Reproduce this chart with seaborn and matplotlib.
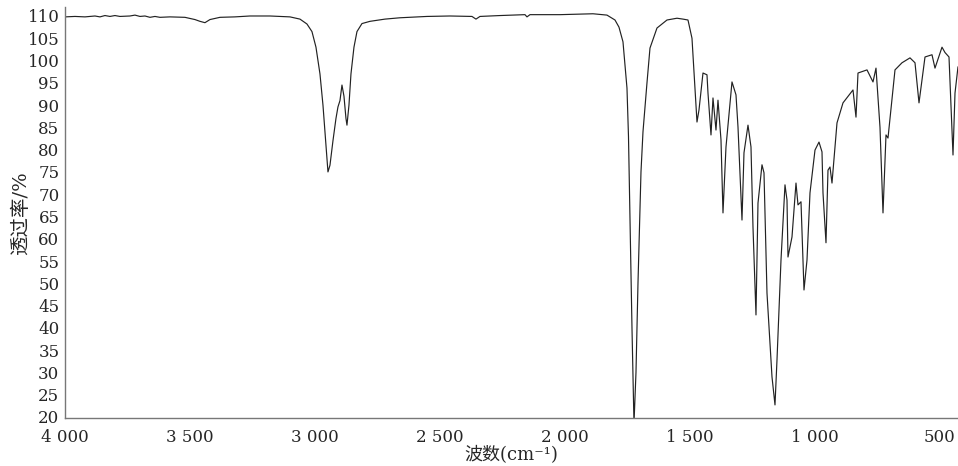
import numpy as np
import pandas as pd
import matplotlib
matplotlib.use('Agg')
import matplotlib.pyplot as plt
from matplotlib.ticker import MultipleLocator, FuncFormatter
import seaborn as sns

# IR spectrum (wavenumber in cm-1, transmittance in %)
wavenumber = [
    4000, 3960, 3920, 3880, 3860, 3840, 3820, 3800, 3780, 3740, 3720, 3700,
    3680, 3660, 3640, 3620, 3580, 3520, 3480, 3460, 3440, 3420, 3380, 3320,
    3260, 3180, 3100, 3060, 3032, 3012, 2996, 2980, 2968, 2960, 2952, 2948,
    2940, 2928, 2916, 2908, 2900, 2892, 2884, 2876, 2872, 2864, 2856, 2844,
    2832, 2812, 2780, 2720, 2660, 2552, 2460, 2372, 2356, 2340, 2260, 2160,
    2152, 2140, 2020, 1888, 1832, 1800, 1784, 1768, 1752, 1746, 1740, 1732,
    1724, 1716, 1708, 1696, 1688, 1672, 1660, 1632, 1592, 1552, 1528, 1508,
    1492, 1480, 1472, 1464, 1448, 1432, 1428, 1416, 1408, 1396, 1388, 1376,
    1368, 1356, 1332, 1316, 1308, 1292, 1284, 1268, 1256, 1248, 1236, 1228,
    1212, 1204, 1192, 1172, 1160, 1152, 1136, 1120, 1112, 1108, 1092, 1076,
    1068, 1056, 1044, 1032, 1020, 1000, 984, 972, 968, 956, 948, 940,
    932, 912, 888, 848, 836, 828, 792, 768, 756, 740, 728, 716,
    708, 680, 652, 620, 600, 584, 560, 532, 520, 492, 480, 464,
    448, 440, 428,
]
transmittance = [
    109.8, 109.9, 109.8, 110.0, 109.8, 110.1, 109.9, 110.1, 109.9, 110.0, 110.2, 109.9,
    110.0, 109.7, 109.9, 109.7, 109.8, 109.7, 109.2, 108.8, 108.5, 109.2, 109.7, 109.8,
    110.0, 110.0, 109.8, 109.3, 108.2, 106.5, 103.0, 97.0, 90.0, 84.0, 78.0, 75.0,
    76.5, 82.0, 87.0, 89.6, 91.0, 94.5, 92.0, 87.0, 85.5, 90.0, 97.0, 103.0,
    106.5, 108.3, 108.8, 109.3, 109.6, 109.9, 110.0, 109.9, 109.3, 109.9, 110.1, 110.3,
    109.8, 110.3, 110.3, 110.5, 110.2, 109.1, 107.5, 104.2, 93.8, 83.0, 65.0, 40.0,
    18.5, 30.0, 50.0, 75.0, 84.0, 95.0, 102.8, 107.3, 109.1, 109.5, 109.3, 109.1,
    105.0, 93.8, 86.2, 88.9, 97.2, 96.8, 92.7, 83.3, 91.6, 84.4, 91.1, 82.2,
    65.8, 80.6, 95.2, 92.3, 85.1, 64.2, 79.3, 85.5, 80.6, 62.6, 42.9, 68.0,
    76.6, 74.8, 47.8, 29.0, 22.7, 32.8, 55.2, 72.1, 68.7, 55.9, 60.4, 72.5,
    67.6, 68.3, 48.5, 55.2, 70.3, 79.9, 81.7, 79.5, 70.3, 59.1, 75.4, 76.1,
    72.5, 86.0, 90.5, 93.4, 87.3, 97.2, 97.9, 95.2, 98.3, 85.0, 65.8, 83.3,
    82.6, 97.9, 99.5, 100.6, 99.5, 90.5, 100.8, 101.3, 98.3, 103.0, 101.8, 100.8,
    78.8, 92.7, 98.6,
]

x_ticks = [4000, 3500, 3000, 2500, 2000, 1500, 1000, 500]
y_ticks = list(range(20, 111, 5))

df = pd.DataFrame({'wavenumber': wavenumber, 'T': transmittance})

sns.set_style('white')
plt.rcParams['font.family'] = ['DejaVu Serif', 'Noto Sans CJK SC']

fig = plt.figure(figsize=(9.58, 4.66), dpi=100)
ax = fig.add_axes([0.0678, 0.1024, 0.9322, 0.8824])

sns.lineplot(data=df, x='wavenumber', y='T', sort=False, color='#222222',
             linewidth=0.85, ax=ax)

ax.set_xlim(4000, 428)
ax.set_ylim(19.7, 112)
ax.set_xticks(x_ticks)
ax.xaxis.set_major_formatter(FuncFormatter(lambda v, p: f'{int(v):,}'.replace(',', ' ')))
ax.xaxis.set_minor_locator(MultipleLocator(100))
ax.set_yticks(y_ticks)
ax.yaxis.set_minor_locator(MultipleLocator(1))

ax.tick_params(axis='both', which='major', direction='inout', length=4,
               width=0.8, color='#555555', labelsize=12)
ax.tick_params(axis='x', which='major', pad=6)
ax.tick_params(axis='y', which='major', pad=2)
ax.tick_params(axis='both', which='minor', direction='inout', length=2,
               width=0.6, color='#555555')

for s in ['top', 'right']:
    ax.spines[s].set_visible(False)
for s in ['left', 'bottom']:
    ax.spines[s].set_color('#777777')
    ax.spines[s].set_linewidth(1.0)

ax.set_xlabel('波数(cm⁻¹)', fontsize=13, labelpad=0)
ax.set_ylabel('透过率/%', fontsize=14, labelpad=-2)

fig.savefig('out.png', dpi=100)
